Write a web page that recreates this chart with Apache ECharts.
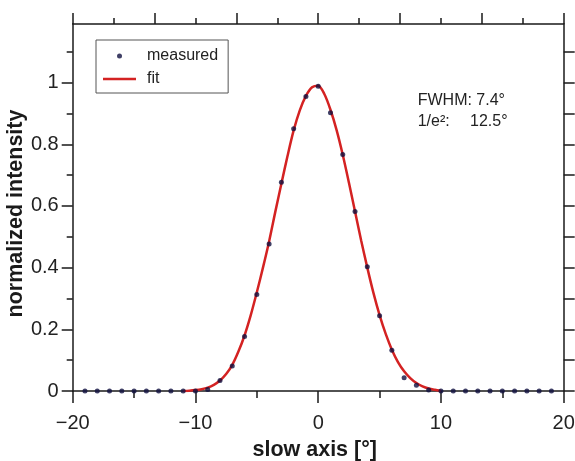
<!DOCTYPE html>
<html>
<head>
<meta charset="utf-8">
<script src="https://cdn.jsdelivr.net/npm/echarts@6/dist/echarts.min.js"></script>
<style>html,body{margin:0;padding:0;background:#fff}#c{width:575px;height:461px}</style>
</head>
<body>
<div id="c"></div>
<script>
// measured points (slow axis angle in degrees, normalized intensity)
var measuredX = [-19,-18,-17,-16,-15,-14,-13,-12,-11,-10,-9,-8,-7,-6,-5,-4,-3,-2,-1,0,1,2,3,4,5,6,7,8,9,10,11,12,13,14,15,16,17,18,19];
var measuredY = [0,0,0,0,0,0,0,0,0,0,0.005,0.034,0.081,0.177,0.313,0.477,0.677,0.85,0.955,0.988,0.902,0.767,0.582,0.403,0.244,0.132,0.043,0.019,0.003,0,0,0,0,0,0,0,0,0,0];
// fit curve
var fitX = [-11,-10.5,-10,-9.5,-9,-8.5,-8,-7.5,-7,-6.5,-6,-5.5,-5,-4.5,-4,-3.5,-3,-2.5,-2,-1.5,-1,-0.5,0,0.5,1,1.5,2,2.5,3,3.5,4,4.5,5,5.5,6,6.5,7,7.5,8,8.5,9,9.5,10];
var fitY = [0,0.001,0.003,0.006,0.011,0.02,0.034,0.055,0.085,0.128,0.18,0.245,0.32,0.4,0.485,0.58,0.672,0.762,0.845,0.91,0.957,0.985,0.99,0.963,0.912,0.846,0.766,0.676,0.582,0.488,0.4,0.318,0.246,0.185,0.134,0.094,0.064,0.042,0.026,0.015,0.008,0.004,0.001];
// tick values
var yTickValues = [0,0.2,0.4,0.6,0.8,1];
var yRightTickValues = [0,0.1,0.2,0.3,0.4,0.5,0.6,0.7,0.8,0.9,1.0,1.1];

var FONT = '"Liberation Sans", Arial, sans-serif';
var AX = '#1a1a1a';

function pairs(xs, ys){ return xs.map(function(x,i){ return [x, ys[i]]; }); }
function fmt(v){ var s = String(Math.round(v*100)/100); return s.replace('-', '\u2212'); }

var chart = echarts.init(document.getElementById('c'), null, {renderer:'canvas'});
chart.setOption({
  backgroundColor: '#ffffff',
  animation: false,
  grid: { left: 72.7, right: 11.3, top: 24, bottom: 70, containLabel: false, outerBoundsMode: 'none' },
  legend: {
    left: 96, top: 40, orient: 'vertical',
    backgroundColor: '#fff', borderColor: '#555', borderWidth: 1,
    padding: [8, 10, 6, 7],
    itemWidth: 33, itemHeight: 5, itemGap: 7,
    textStyle: { fontFamily: FONT, fontSize: 16, color: '#222', padding: [0,0,0,6] },
    data: [
      { name: 'measured', icon: 'circle' },
      { name: 'fit', icon: 'path://M0,0H33V2.5H0Z' }
    ]
  },
  xAxis: [{
    type: 'value', position: 'bottom', min: -20, max: 20, interval: 10,
    name: 'slow axis [°]', nameLocation: 'middle', nameGap: 48, nameMoveOverlap: false,
    nameTextStyle: { fontFamily: FONT, fontSize: 21.5, fontWeight: 'bold', color: '#1a1a1a', padding: [0,7,0,0] },
    axisLine: { show: true, onZero: false, lineStyle: { color: AX, width: 1.5 } },
    axisTick: { show: true, inside: false, length: 12, lineStyle: { color: AX, width: 1.5 } },
    minorTick: { show: true, splitNumber: 2, length: 7, lineStyle: { color: AX, width: 1.5 } },
    axisLabel: { fontFamily: FONT, fontSize: 20, color: '#222', margin: 22, formatter: fmt },
    splitLine: { show: false }
  }, {
    type: 'value', position: 'top', min: -20, max: 20, interval: 20/3,
    axisLine: { show: true, onZero: false, lineStyle: { color: AX, width: 1.5 } },
    axisTick: { show: true, inside: false, length: 11, lineStyle: { color: AX, width: 1.5 } },
    minorTick: { show: true, splitNumber: 2, length: 6, lineStyle: { color: AX, width: 1.5 } },
    axisLabel: { show: false },
    splitLine: { show: false }
  }],
  yAxis: [{
    type: 'value', position: 'left', min: 0, max: 1.19, interval: 0.2,
    name: 'normalized intensity', nameLocation: 'middle', nameGap: 46, nameRotate: 90, nameMoveOverlap: false,
    nameTextStyle: { fontFamily: FONT, fontSize: 21.5, fontWeight: 'bold', color: '#1a1a1a', padding: [0,12,0,0] },
    axisLine: { show: true, onZero: false, lineStyle: { color: AX, width: 1.5 } },
    axisTick: { show: true, inside: false, length: 11, customValues: yTickValues, lineStyle: { color: AX, width: 1.5 } },
    minorTick: { show: true, splitNumber: 2, length: 6, lineStyle: { color: AX, width: 1.5 } },
    axisLabel: { fontFamily: FONT, fontSize: 20, color: '#222', margin: 14, customValues: yTickValues, formatter: fmt },
    splitLine: { show: false }
  }, {
    type: 'value', position: 'right', min: 0, max: 1.19, interval: 0.1,
    axisLine: { show: true, onZero: false, lineStyle: { color: AX, width: 1.5 } },
    axisTick: { show: true, inside: false, length: 11, customValues: yRightTickValues, lineStyle: { color: AX, width: 1.5 } },
    axisLabel: { show: false },
    splitLine: { show: false }
  }],
  series: [{
    name: 'fit', type: 'line', xAxisIndex: 0, yAxisIndex: 0,
    data: pairs(fitX, fitY), smooth: 0.3, symbol: 'none', showSymbol: false,
    lineStyle: { color: '#d42222', width: 2.5 }, itemStyle: { color: '#d42222' }, z: 2
  }, {
    name: 'measured', type: 'scatter', xAxisIndex: 0, yAxisIndex: 0,
    data: pairs(measuredX, measuredY), symbol: 'circle', symbolSize: 5,
    itemStyle: { color: '#101040' }, z: 3
  }],
  graphic: [
    { type: 'text', left: 417.7, top: 92.5, style: { text: 'FWHM: 7.4°', font: '16px ' + FONT, fill: '#222' } },
    { type: 'text', left: 417.7, top: 114, style: { text: '1/e²:', font: '16px ' + FONT, fill: '#222' } },
    { type: 'text', left: 470, top: 114, style: { text: '12.5°', font: '16px ' + FONT, fill: '#222' } }
  ]
});
</script>
</body>
</html>
